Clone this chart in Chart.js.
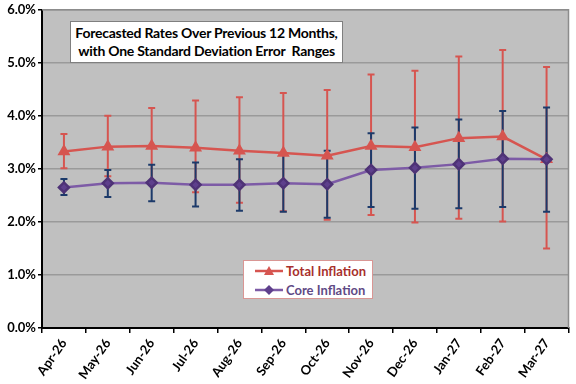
<!DOCTYPE html>
<html>
<head>
<meta charset="utf-8">
<script src="https://cdn.jsdelivr.net/npm/chart.js@4.4.1/dist/chart.umd.min.js"></script>
<style>
    body { margin: 0; background: #fff; }
    #wrap { position: relative; width: 576px; height: 384px; font-family: Lato, 'Open Sans', sans-serif; }
    #titleBox {
        position: absolute; left: 70px; top: 21px; width: 271px; height: 38px;
        border: 1px solid #7f7f7f; background: #fff;
        font-weight: bold; font-size: 14px; line-height: 18px; text-align: center;
        padding-top: 2px; color: #000; white-space: nowrap; letter-spacing: -0.25px;
    }
    #legendBox {
        position: absolute; left: 243px; top: 260px; width: 128px; height: 37px;
        border: 1px solid #d99694; background: #fff;
        font-weight: bold; font-size: 13px;
    }
    .row { position: absolute; left: 11px; height: 18px; display: flex; align-items: center; white-space: nowrap; }
    .row svg { margin-right: 3px; }
</style>
</head>
<body>
<div id="wrap">
    <canvas id="rateChart" width="576" height="384"></canvas>
    <div id="titleBox">Forecasted Rates Over Previous 12 Months,<br>with One Standard Deviation Error&nbsp; Ranges</div>
    <div id="legendBox">
        <div class="row" style="top: 1px; color: #a8302c;">
            <svg width="28" height="12"><line x1="0" y1="6" x2="28" y2="6" stroke="#d65550" stroke-width="2.5"/><polygon points="14,1 19,10 9,10" fill="#d65550"/></svg>Total Inflation
        </div>
        <div class="row" style="top: 20px; color: #5f4a85;">
            <svg width="28" height="12"><line x1="0" y1="6" x2="28" y2="6" stroke="#7d5ba6" stroke-width="2.5"/><polygon points="14,1 19,6 14,11 9,6" fill="#5e3f8c"/></svg>Core Inflation
        </div>
    </div>
</div>
<script>
const months = ['Apr-26', 'May-26', 'Jun-26', 'Jul-26', 'Aug-26', 'Sep-26', 'Oct-26', 'Nov-26', 'Dec-26', 'Jan-27', 'Feb-27', 'Mar-27'];
const totalRates = [3.33, 3.42, 3.43, 3.40, 3.34, 3.30, 3.25, 3.43, 3.41, 3.58, 3.61, 3.18];
const totalHigh = [3.66, 4.00, 4.15, 4.29, 4.35, 4.43, 4.49, 4.78, 4.85, 5.12, 5.24, 4.92];
const totalLow = [3.01, 2.86, 2.71, 2.56, 2.36, 2.20, 2.04, 2.13, 1.99, 2.06, 2.01, 1.50];
const coreRates = [2.65, 2.73, 2.74, 2.70, 2.70, 2.73, 2.71, 2.98, 3.02, 3.09, 3.19, 3.18];
const coreHigh = [2.81, 2.98, 3.08, 3.12, 3.18, 3.27, 3.34, 3.67, 3.78, 3.93, 4.09, 4.16];
const coreLow = [2.51, 2.47, 2.39, 2.29, 2.21, 2.19, 2.08, 2.28, 2.25, 2.26, 2.28, 2.19];
const yTickLabels = ['0.0%', '1.0%', '2.0%', '3.0%', '4.0%', '5.0%', '6.0%'];

const RED = '#d65550';
const NAVY = '#1c3a6a';

// grey plot area + thin frame on top/right
const plotBackground = {
    id: 'plotBackground',
    beforeDraw(chart) {
        const { ctx, chartArea: a } = chart;
        ctx.save();
        ctx.fillStyle = '#c0c0c0';
        ctx.fillRect(a.left, a.top, a.right - a.left, a.bottom - a.top);
        ctx.restore();
    },
    beforeDatasetsDraw(chart) {
        const { ctx, chartArea: a } = chart;
        ctx.save();
        ctx.strokeStyle = '#8c8c8c';
        ctx.lineWidth = 1.5;
        ctx.beginPath();
        ctx.moveTo(a.left, a.top);
        ctx.lineTo(a.right, a.top);
        ctx.lineTo(a.right, a.bottom);
        ctx.stroke();
        ctx.restore();
    }
};

// vertical error bars with caps, drawn under the lines
const errorBars = {
    id: 'errorBars',
    beforeDatasetsDraw(chart) {
        const ctx = chart.ctx;
        const xs = chart.scales.x;
        const ys = chart.scales.y;
        const drawSet = (low, high, color) => {
            ctx.save();
            ctx.strokeStyle = color;
            ctx.lineWidth = 2;
            for (let i = 0; i < months.length; i++) {
                const x = xs.getPixelForValue(i);
                const y1 = ys.getPixelForValue(low[i]);
                const y2 = ys.getPixelForValue(high[i]);
                ctx.beginPath();
                ctx.moveTo(x, y1);
                ctx.lineTo(x, y2);
                ctx.moveTo(x - 3.5, y1);
                ctx.lineTo(x + 3.5, y1);
                ctx.moveTo(x - 3.5, y2);
                ctx.lineTo(x + 3.5, y2);
                ctx.stroke();
            }
            ctx.restore();
        };
        drawSet(totalLow, totalHigh, RED);
        drawSet(coreLow, coreHigh, NAVY);
    }
};

Chart.defaults.font.family = 'Lato, "Open Sans", sans-serif';

new Chart(document.getElementById('rateChart'), {
    type: 'line',
    data: {
        labels: months,
        datasets: [{
            label: 'Total Inflation',
            data: totalRates,
            borderColor: RED,
            borderWidth: 2.5,
            pointStyle: 'triangle',
            pointRadius: 5,
            pointBackgroundColor: RED,
            pointBorderColor: RED,
            tension: 0,
            order: 1
        }, {
            label: 'Core Inflation',
            data: coreRates,
            borderColor: '#7d5ba6',
            borderWidth: 2.5,
            pointStyle: 'rectRot',
            pointRadius: 5,
            pointBackgroundColor: '#5e3f8c',
            pointBorderColor: '#4e3276',
            tension: 0,
            order: 0
        }]
    },
    options: {
        responsive: false,
        animation: false,
        layout: { padding: { top: 8, right: 1, left: 0, bottom: 0 } },
        plugins: {
            legend: { display: false },
            tooltip: { enabled: false }
        },
        scales: {
            x: {
                offset: true,
                grid: { offset: true, drawOnChartArea: false, drawTicks: true, tickLength: 5, color: '#000', lineWidth: 1.5 },
                border: { color: '#000', width: 2 },
                ticks: {
                    autoSkip: false,
                    minRotation: 55,
                    maxRotation: 55,
                    padding: 3,
                    color: '#000',
                    font: { size: 13, weight: 'bold' }
                },
                afterFit(scale) { scale.height = 56; }
            },
            y: {
                min: 0,
                max: 6,
                grid: { color: '#9a9a9a', lineWidth: 1.5, tickLength: 4, tickColor: '#000' },
                border: { color: '#000', width: 2 },
                ticks: {
                    stepSize: 1,
                    padding: 2,
                    color: '#000',
                    font: { size: 13, weight: 'bold' },
                    callback: (v) => yTickLabels[v]
                },
                afterFit(scale) { scale.width = 42; }
            }
        }
    },
    plugins: [plotBackground, errorBars]
});
</script>
</body>
</html>
